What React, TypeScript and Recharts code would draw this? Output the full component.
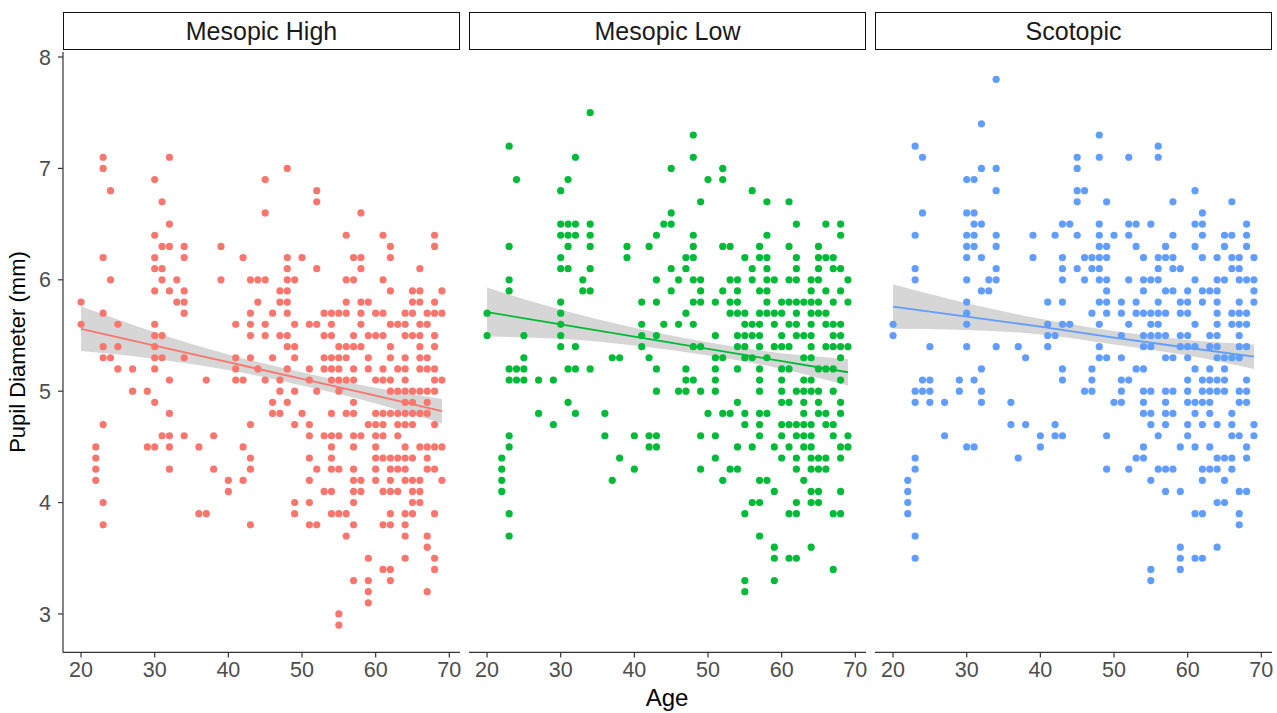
import React from "react";
import { ComposedChart, Scatter, Area, Line, XAxis, YAxis } from "recharts";

// pupil diameter (mm) -> ages of subjects measured at that value
const mesopicHighRows: [number, number[]][] = [
  [7.1, [23, 32]],
  [7.0, [23, 48]],
  [6.9, [30, 45]],
  [6.8, [24, 52]],
  [6.7, [31, 52]],
  [6.6, [45, 58]],
  [6.5, [32]],
  [6.4, [30, 56, 61, 68]],
  [6.3, [31, 32, 34, 39, 62, 68]],
  [6.2, [23, 30, 34, 42, 48, 50, 57, 58, 62]],
  [6.1, [30, 31, 48, 52, 58, 66]],
  [6.0, [24, 31, 33, 39, 43, 44, 45, 48, 49, 56, 57, 61]],
  [5.9, [30, 32, 34, 47, 48, 62, 65, 66, 69]],
  [5.8, [20, 33, 34, 44, 47, 48, 56, 58, 59, 65, 66, 68]],
  [5.7, [23, 34, 43, 46, 48, 53, 54, 55, 56, 58, 60, 61, 64, 65, 67, 68, 69]],
  [5.6, [20, 25, 30, 41, 43, 45, 49, 51, 52, 54, 58, 62, 63, 64, 66, 67]],
  [5.5, [30, 31, 43, 45, 47, 48, 53, 54, 57, 59, 60, 61, 64, 65, 66, 68]],
  [5.4, [23, 25, 30, 48, 49, 55, 56, 57, 58, 62, 66, 68]],
  [5.3, [23, 24, 30, 31, 34, 41, 43, 46, 49, 53, 54, 55, 56, 59, 62, 64, 66, 67]],
  [5.2, [25, 27, 30, 41, 44, 48, 51, 53, 54, 55, 57, 59, 61, 63, 64, 66, 67, 68]],
  [5.1, [32, 37, 41, 42, 45, 47, 51, 54, 55, 56, 57, 60, 61, 62, 64, 68, 69]],
  [5.0, [27, 29, 47, 49, 52, 55, 62, 63, 64, 65, 66, 67, 68]],
  [4.9, [30, 46, 48, 57, 64, 65, 67]],
  [4.8, [32, 46, 47, 50, 54, 56, 57, 60, 61, 62, 63, 64, 65, 66, 67]],
  [4.7, [23, 43, 49, 51, 59, 60, 61, 63, 64, 65, 68]],
  [4.6, [31, 32, 34, 38, 51, 53, 54, 55, 57, 58, 60, 61, 63]],
  [4.5, [22, 29, 30, 32, 36, 42, 54, 57, 60, 64, 66, 67, 68, 69]],
  [4.4, [22, 43, 51, 54, 60, 61, 62, 63, 64, 65, 67]],
  [4.3, [22, 32, 38, 43, 52, 54, 55, 57, 60, 62, 63, 64, 67, 68]],
  [4.2, [22, 40, 42, 51, 57, 58, 60, 62, 64, 65, 66, 69]],
  [4.1, [40, 53, 54, 57, 58, 61, 62, 63, 65, 66]],
  [4.0, [23, 49, 51, 57, 65, 66]],
  [3.9, [36, 37, 49, 54, 55, 56, 62, 64, 65, 68]],
  [3.8, [23, 43, 51, 52, 57, 61, 62, 64]],
  [3.7, [56, 64, 67]],
  [3.6, [67]],
  [3.5, [59, 64, 68]],
  [3.4, [61, 62, 68]],
  [3.3, [57, 59, 62]],
  [3.2, [59, 67]],
  [3.1, [59]],
  [3.0, [55]],
  [2.9, [55]],
];

const mesopicLowRows: [number, number[]][] = [
  [7.5, [34]],
  [7.3, [48]],
  [7.2, [23]],
  [7.1, [32, 48]],
  [7.0, [45, 52]],
  [6.9, [24, 31, 50, 52]],
  [6.8, [30, 56]],
  [6.7, [49, 58, 61]],
  [6.6, [45]],
  [6.5, [30, 31, 32, 34, 44, 45, 62, 66, 68]],
  [6.4, [30, 31, 32, 34, 43, 48, 58, 68]],
  [6.3, [23, 31, 34, 39, 42, 48, 52, 53, 57, 61, 65]],
  [6.2, [30, 39, 47, 48, 55, 57, 58, 62, 65, 66, 67]],
  [6.1, [30, 31, 34, 45, 47, 56, 58, 62, 65, 67, 68]],
  [6.0, [23, 33, 43, 46, 48, 49, 53, 54, 56, 58, 59, 61, 62, 64, 65, 69]],
  [5.9, [23, 33, 34, 45, 49, 52, 54, 57, 58, 64, 66, 68]],
  [5.8, [30, 41, 43, 48, 49, 51, 53, 54, 58, 60, 61, 62, 63, 64, 65, 67, 69]],
  [5.7, [20, 30, 47, 53, 54, 55, 57, 58, 59, 60, 62, 64, 65, 66]],
  [5.6, [30, 41, 44, 46, 48, 55, 56, 57, 59, 61, 62, 64, 66, 67, 68]],
  [5.5, [20, 25, 30, 41, 43, 51, 54, 55, 56, 57, 60, 62, 63, 64, 67, 68]],
  [5.4, [30, 32, 41, 48, 49, 54, 55, 57, 59, 60, 61, 64, 66, 67, 68, 69]],
  [5.3, [25, 37, 38, 42, 51, 52, 55, 56, 58, 63, 64, 68]],
  [5.2, [23, 24, 25, 31, 32, 34, 43, 47, 51, 54, 57, 60, 61, 65, 66, 67]],
  [5.1, [23, 24, 25, 27, 29, 47, 48, 51, 57, 60, 63, 64, 68]],
  [5.0, [43, 46, 47, 49, 51, 57, 60, 62, 63, 64, 65, 67]],
  [4.9, [31, 54, 60, 61, 63, 65, 68]],
  [4.8, [27, 32, 36, 50, 52, 53, 55, 57, 58, 63, 65, 66, 68]],
  [4.7, [29, 55, 57, 60, 61, 62, 63, 64, 66, 67]],
  [4.6, [23, 36, 40, 42, 43, 49, 51, 57, 60, 62, 63, 64, 67, 69]],
  [4.5, [23, 42, 43, 54, 56, 59, 61, 63, 64, 68, 69]],
  [4.4, [22, 38, 51, 60, 62, 64, 65, 66, 68]],
  [4.3, [22, 40, 49, 53, 54, 62, 64, 65, 66]],
  [4.2, [22, 37, 52, 57, 58, 63]],
  [4.1, [22, 59, 64, 65, 68]],
  [4.0, [56, 57, 62, 64, 65]],
  [3.9, [23, 55, 61, 62, 67, 68]],
  [3.7, [23, 57]],
  [3.6, [59, 64]],
  [3.5, [59, 61, 62]],
  [3.4, [67]],
  [3.3, [55, 59]],
  [3.2, [55]],
];

const scotopicRows: [number, number[]][] = [
  [7.8, [34]],
  [7.4, [32]],
  [7.3, [48]],
  [7.2, [23, 56]],
  [7.1, [24, 45, 48, 52, 56]],
  [7.0, [32, 34, 45]],
  [6.9, [30, 31]],
  [6.8, [34, 45, 46, 61]],
  [6.7, [45, 49, 58, 66]],
  [6.6, [24, 30, 31, 62]],
  [6.5, [31, 32, 43, 44, 48, 52, 53, 55, 61, 62, 68]],
  [6.4, [23, 30, 31, 34, 39, 42, 45, 48, 50, 52, 58, 62, 65, 66, 68]],
  [6.3, [30, 31, 34, 48, 49, 53, 57, 61, 65, 68]],
  [6.2, [30, 32, 39, 43, 46, 47, 48, 49, 54, 56, 57, 58, 62, 64, 66, 67, 69]],
  [6.1, [23, 34, 43, 45, 47, 48, 56, 58, 59, 66, 67]],
  [6.0, [23, 30, 33, 34, 43, 46, 48, 49, 52, 54, 55, 56, 61, 64, 65, 67, 68, 69]],
  [5.9, [32, 33, 49, 54, 57, 58, 60, 62, 63, 64, 69]],
  [5.8, [30, 41, 43, 48, 49, 51, 53, 56, 59, 60, 62, 64, 67, 69]],
  [5.7, [30, 47, 49, 51, 53, 54, 55, 56, 57, 59, 60, 64, 66, 67, 68]],
  [5.6, [20, 30, 41, 43, 44, 48, 52, 55, 56, 61, 64, 66, 67, 68]],
  [5.5, [20, 41, 42, 51, 54, 55, 56, 57, 59, 60, 63, 64, 67]],
  [5.4, [25, 30, 34, 37, 41, 48, 54, 55, 59, 60, 61, 63, 64, 67, 68]],
  [5.3, [38, 48, 49, 51, 57, 58, 60, 64, 65, 66, 67]],
  [5.2, [32, 43, 47, 53, 54, 61, 63, 65]],
  [5.1, [24, 25, 29, 31, 43, 47, 51, 52, 60, 62, 63, 64, 65, 68]],
  [5.0, [23, 24, 25, 29, 32, 46, 47, 51, 54, 55, 57, 58, 60, 62, 63, 64, 65, 67, 68]],
  [4.9, [23, 25, 27, 32, 36, 50, 51, 54, 57, 60, 61, 62, 63, 67, 68]],
  [4.8, [54, 55, 57, 58, 61, 63, 66]],
  [4.7, [36, 38, 42, 55, 57, 60, 62, 64, 66, 69]],
  [4.6, [27, 40, 42, 43, 49, 56, 60, 66, 67, 69]],
  [4.5, [30, 31, 40, 54, 59, 61, 63, 68]],
  [4.4, [23, 37, 53, 54, 64, 65, 66, 68]],
  [4.3, [23, 49, 52, 56, 57, 58, 62, 63, 64, 66]],
  [4.2, [22, 55, 62, 65]],
  [4.1, [22, 57, 59, 67, 68]],
  [4.0, [22, 64, 65]],
  [3.9, [22, 61, 62, 67]],
  [3.8, [67]],
  [3.7, [23]],
  [3.6, [59, 64]],
  [3.5, [23, 59, 61, 62]],
  [3.4, [55, 59]],
  [3.3, [55]],
];

// fitted line and confidence band, read at these ages
const fitAges = [20, 30, 40, 50, 60, 69];
const mesopicHighFit = [5.56, 5.41, 5.26, 5.11, 4.96, 4.82];
const mesopicHighLower = [5.36, 5.29, 5.19, 5.05, 4.89, 4.71];
const mesopicHighUpper = [5.76, 5.53, 5.33, 5.17, 5.03, 4.93];
const mesopicLowFit = [5.71, 5.6, 5.49, 5.38, 5.27, 5.17];
const mesopicLowLower = [5.49, 5.47, 5.41, 5.32, 5.2, 5.05];
const mesopicLowUpper = [5.93, 5.73, 5.57, 5.44, 5.34, 5.29];
const scotopicFit = [5.76, 5.67, 5.58, 5.48, 5.39, 5.31];
const scotopicLower = [5.56, 5.55, 5.51, 5.42, 5.32, 5.2];
const scotopicUpper = [5.96, 5.79, 5.65, 5.54, 5.46, 5.42];

const ageTicks = [20, 30, 40, 50, 60, 70];
const diameterTicks = [3, 4, 5, 6, 7, 8];

const FONT = '"Liberation Sans", Arial, sans-serif';
const PLOT_W = 397;

const toPoints = (rows: [number, number[]][]) =>
  rows.flatMap(([v, ages]) => ages.map((age) => ({ age, v })));

const toBand = (fit: number[], lower: number[], upper: number[]) =>
  fitAges.map((age, i) => ({ age, fit: fit[i], band: [lower[i], upper[i]] }));

interface PanelProps {
  title: string;
  x: number;
  color: string;
  rows: [number, number[]][];
  fit: number[];
  lower: number[];
  upper: number[];
  showY?: boolean;
}

const Panel = ({ title, x, color, rows, fit, lower, upper, showY }: PanelProps) => {
  const points = toPoints(rows);
  const band = toBand(fit, lower, upper);
  return (
    <>
      <div
        style={{
          position: "absolute",
          left: x,
          top: 12,
          width: PLOT_W,
          height: 38,
          boxSizing: "border-box",
          border: "1.6px solid #111111",
          display: "flex",
          alignItems: "center",
          justifyContent: "center",
          fontSize: 25,
          color: "#1a1a1a",
        }}
      >
        {title}
      </div>
      <div style={{ position: "absolute", left: x - 63, top: 0 }}>
        <ComposedChart
          width={PLOT_W + 67}
          height={713}
          margin={{ top: 52, right: 4, bottom: 30, left: showY ? 33 : 63 }}
        >
          <XAxis
            type="number"
            dataKey="age"
            domain={[17.55, 71.45]}
            ticks={ageTicks}
            allowDataOverflow
            interval={0}
            height={30.6}
            tickSize={5}
            tickMargin={4}
            axisLine={{ stroke: "#333333", strokeWidth: 1.2 }}
            tickLine={{ stroke: "#333333", strokeWidth: 1.2 }}
            tick={{ fill: "#4d4d4d", fontSize: 21.5, fontFamily: FONT }}
          />
          <YAxis
            type="number"
            domain={[2.655, 8.045]}
            ticks={diameterTicks}
            allowDataOverflow
            interval={0}
            hide={!showY}
            width={30}
            tickSize={5}
            tickMargin={7}
            axisLine={{ stroke: "#333333", strokeWidth: 1.2 }}
            tickLine={{ stroke: "#333333", strokeWidth: 1.2 }}
            tick={{ fill: "#4d4d4d", fontSize: 21.5, fontFamily: FONT }}
          />
          <Scatter
            data={points}
            dataKey="v"
            fill={color}
            isAnimationActive={false}
            shape={(p: any) => <circle cx={p.cx} cy={p.cy} r={3.6} fill={color} />}
          />
          <Area
            data={band}
            dataKey="band"
            type="monotone"
            stroke="none"
            fill="#999999"
            fillOpacity={0.4}
            isAnimationActive={false}
            dot={false}
            activeDot={false}
          />
          <Line
            data={band}
            dataKey="fit"
            type="linear"
            stroke={color}
            strokeWidth={1.8}
            dot={false}
            activeDot={false}
            isAnimationActive={false}
          />
        </ComposedChart>
      </div>
    </>
  );
};

export default function App() {
  return (
    <div
      style={{
        position: "absolute",
        left: 0,
        top: 0,
        width: 1277,
        height: 713,
        overflow: "hidden",
        background: "#ffffff",
        fontFamily: FONT,
      }}
    >
      <Panel
        title="Mesopic High"
        x={63}
        color="#F8766D"
        rows={mesopicHighRows}
        fit={mesopicHighFit}
        lower={mesopicHighLower}
        upper={mesopicHighUpper}
        showY
      />
      <Panel
        title="Mesopic Low"
        x={469}
        color="#00BA38"
        rows={mesopicLowRows}
        fit={mesopicLowFit}
        lower={mesopicLowLower}
        upper={mesopicLowUpper}
      />
      <Panel
        title="Scotopic"
        x={875}
        color="#619CFF"
        rows={scotopicRows}
        fit={scotopicFit}
        lower={scotopicLower}
        upper={scotopicUpper}
      />
      <div
        style={{
          position: "absolute",
          left: 18,
          top: 352,
          transform: "translate(-50%, -50%) rotate(-90deg)",
          whiteSpace: "nowrap",
          fontSize: 22,
          lineHeight: "24px",
          color: "#000000",
        }}
      >
        Pupil Diameter (mm)
      </div>
      <div
        style={{
          position: "absolute",
          left: 667,
          top: 685,
          transform: "translateX(-50%)",
          fontSize: 24,
          lineHeight: "26px",
          color: "#000000",
        }}
      >
        Age
      </div>
    </div>
  );
}
